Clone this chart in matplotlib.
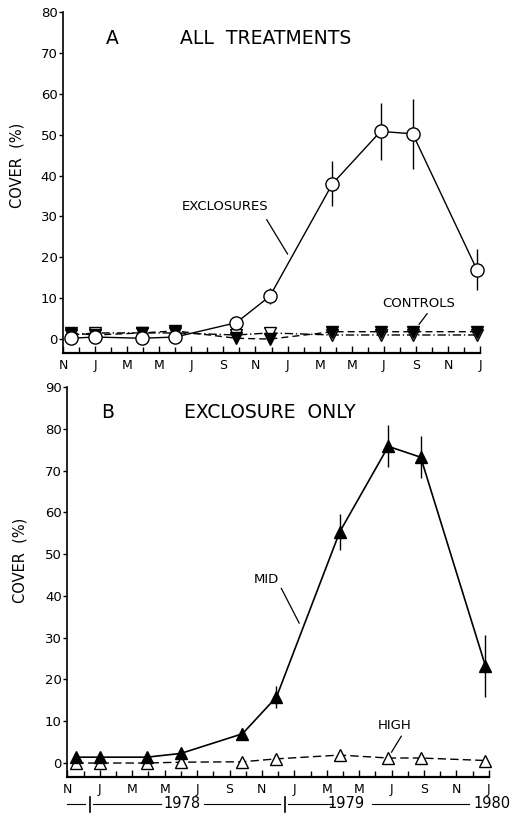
import matplotlib
matplotlib.use("Agg")
import matplotlib.pyplot as plt
import matplotlib.transforms as mtransforms
import numpy as np

plt.rcParams['font.family'] = ['DejaVu Sans']

# ---------------- data (months since November 1977) ----------------
month_labels = ["N", "J", "M", "M", "J", "S", "N", "J", "M", "M", "J", "S", "N", "J"]
sample_months = [0.5, 2.0, 4.9, 7.0, 10.8, 12.9, 16.8, 19.8, 21.8, 25.8]

# Panel A: all treatments
excl_mean = [0.2, 0.5, 0.2, 0.5, 4.0, 10.5, 38.0, 50.8, 50.2, 17.0]
excl_err = [0.0, 0.0, 0.0, 0.0, 1.5, 2.0, 5.5, 7.0, 8.5, 5.0]
ctrl_filled = [1.5, 1.0, 1.5, 2.0, 0.2, 0.0, 1.8, 1.8, 1.8, 1.8]
ctrl_open = [1.0, 1.5, 1.5, 1.5, 1.0, 1.5, 1.0, 1.0, 1.0, 1.0]

# Panel B: exclosure only
mid_mean = [1.4, 1.4, 1.4, 2.3, 7.0, 15.8, 55.3, 75.8, 73.2, 23.2]
mid_err = [0.0, 0.0, 0.0, 0.0, 1.5, 2.7, 4.3, 5.0, 5.0, 7.5]
high_mean = [0.0, 0.0, 0.0, 0.2, 0.3, 1.0, 1.9, 1.2, 1.2, 0.6]

years = ["1978", "1979", "1980"]

# ---------------- figure ----------------
fig = plt.figure(figsize=(5.14, 8.15), dpi=100)
axA = fig.add_axes([0.1226, 0.5669, 0.8207, 0.4184])
axB = fig.add_axes([0.1313, 0.0466, 0.8290, 0.4785])

lw = 1.0


def style_axis(ax, ymax, ybottom, label_xy):
    ax.set_xlim(0, 26.3)
    ax.set_ylim(ybottom, ymax)
    for s in ("top", "right"):
        ax.spines[s].set_visible(False)
    ax.spines["bottom"].set_bounds(0, 26)
    ax.spines["left"].set_linewidth(1.2)
    ax.spines["bottom"].set_linewidth(1.6)
    ax.set_xticks(np.arange(0, 27, 2))
    ax.set_xticklabels(month_labels, fontsize=9)
    ax.set_xticks(np.arange(1, 27, 2), minor=True)
    ax.tick_params(axis="x", which="major", direction="in", length=5, width=1, pad=4)
    ax.tick_params(axis="x", which="minor", direction="in", length=4, width=1)
    ax.set_yticks(np.arange(0, ymax + 1, 10))
    ax.tick_params(axis="y", direction="out", length=3, width=1, pad=1, labelsize=9.5)
    ax.set_ylabel("COVER  (%)", fontsize=10.5)
    ax.yaxis.set_label_coords(*label_xy)


# ---------- Panel A ----------
style_axis(axA, 80, -3.4, (-0.092, 0.55))
axA.errorbar(sample_months, excl_mean, yerr=excl_err, fmt="none",
             ecolor="black", elinewidth=1.0, capsize=0, zorder=2)
axA.plot(sample_months, ctrl_open, linestyle=(0, (6, 2, 1, 2)), color="black",
         lw=lw, marker="v", markersize=8, markerfacecolor="white",
         markeredgecolor="black", markeredgewidth=1.0, zorder=3)
axA.plot(sample_months, ctrl_filled, linestyle=(0, (5, 3)), color="black",
         lw=lw, marker="v", markersize=8, markerfacecolor="black",
         markeredgecolor="black", zorder=4)
axA.plot(sample_months, excl_mean, linestyle="-", color="black", lw=lw,
         marker="o", markersize=9.5, markerfacecolor="white",
         markeredgecolor="black", markeredgewidth=1.0, zorder=5)

axA.text(3.1, 73.5, "A", fontsize=13.5, ha="center", va="center")
axA.text(7.3, 73.5, "ALL  TREATMENTS", fontsize=13.5, ha="left", va="center")
axA.text(7.4, 32.5, "EXCLOSURES", fontsize=9.5, ha="left", va="center")
axA.plot([12.7, 14.0], [29.2, 20.8], color="black", lw=0.9)
axA.text(19.9, 8.6, "CONTROLS", fontsize=9.5, ha="left", va="center")
axA.plot([22.7, 22.2], [6.2, 3.6], color="black", lw=0.9)

# ---------- Panel B ----------
style_axis(axB, 90, -3.35, (-0.095, 0.556))
axB.errorbar(sample_months, mid_mean, yerr=mid_err, fmt="none",
             ecolor="black", elinewidth=1.0, capsize=0, zorder=2)
axB.plot(sample_months, high_mean, linestyle=(0, (6, 3)), color="black",
         lw=lw, marker="^", markersize=8.5, markerfacecolor="white",
         markeredgecolor="black", markeredgewidth=1.0, zorder=3)
axB.plot(sample_months, mid_mean, linestyle="-", color="black", lw=1.2,
         marker="^", markersize=9, markerfacecolor="black",
         markeredgecolor="black", zorder=4)

axB.text(2.5, 84, "B", fontsize=13.5, ha="center", va="center")
axB.text(7.2, 84, "EXCLOSURE  ONLY", fontsize=13.5, ha="left", va="center")
axB.text(12.3, 44, "MID", fontsize=9.5, ha="center", va="center")
axB.plot([13.2, 14.3], [41.8, 33.5], color="black", lw=0.9)
axB.text(20.2, 9.0, "HIGH", fontsize=9.5, ha="center", va="center")
axB.plot([20.6, 20.0], [6.4, 2.6], color="black", lw=0.9)

# year bar under panel B
trans = mtransforms.blended_transform_factory(axB.transData, axB.transAxes)
yb = -0.069
segs = [(-0.05, 1.05), (1.55, 5.8), (8.45, 13.1), (13.6, 16.4), (18.8, 24.8)]
for a, b in segs:
    axB.plot([a, b], [yb, yb], transform=trans, color="black", lw=0.8,
             clip_on=False)
for xm in (1.42, 13.4):
    axB.plot([xm, xm], [yb - 0.02, yb + 0.018], transform=trans,
             color="black", lw=1.2, clip_on=False)
for xt, label in zip((7.05, 17.2, 26.2), years):
    axB.text(xt, yb, label, transform=trans, fontsize=10.5, ha="center",
             va="center")

fig.savefig("out.png", dpi=100)
